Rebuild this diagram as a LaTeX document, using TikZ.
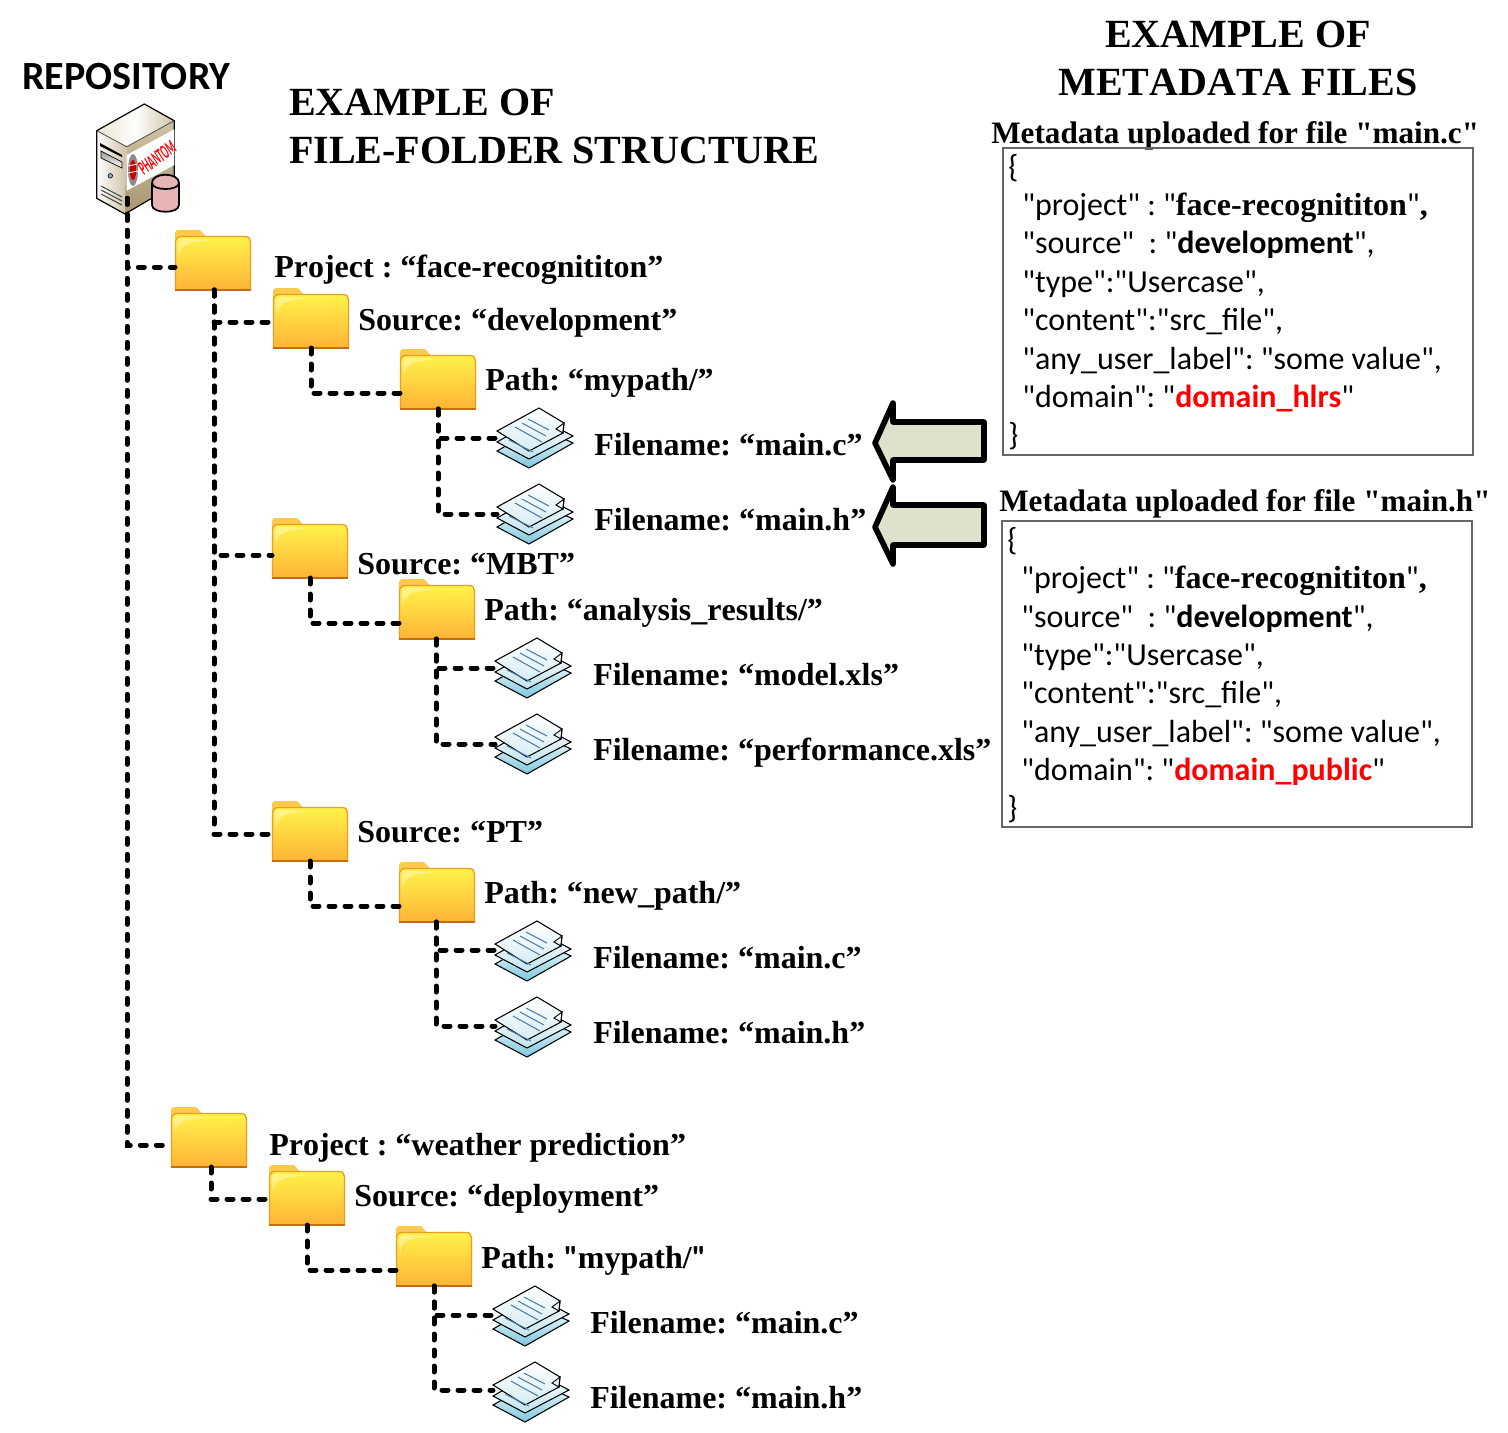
\documentclass[tikz,border=0pt]{standalone}
\usepackage{fontspec}
\setmainfont{Liberation Serif}
\newfontfamily\tms[Kerning=Off]{Liberation Serif}
\newfontfamily\carl{Carlito}
\usetikzlibrary{calc,shadings}
\frenchspacing
\definecolor{fedge}{HTML}{E8A024}
\definecolor{fbot}{HTML}{C46E12}
\definecolor{ftop}{HTML}{FFF24A}
\definecolor{flow}{HTML}{FFB336}
\definecolor{ftab}{HTML}{FFC94D}
\definecolor{dline}{HTML}{4F7FA8}
\definecolor{arrowfill}{HTML}{DDE2CC}
\definecolor{jred}{HTML}{FF0000}
\definecolor{dbot}{HTML}{7CC8DE}
\definecolor{dmid}{HTML}{BFE3EE}
\definecolor{dtop}{HTML}{D5EDF4}
\definecolor{srvtop}{HTML}{E9E3D3}
\definecolor{srvtan}{HTML}{CFC3A6}
\definecolor{srvdark}{HTML}{A8966F}
\definecolor{cylfill}{HTML}{E8B4B4}
\tikzset{
  conn/.style={line width=3.75pt,line cap=round,dash pattern=on 4.5pt off 7.5pt,black},
  lab/.style={anchor=base west,inner sep=0pt,xshift=-0.75pt,font=\fontsize{24}{24}\selectfont\tms\bfseries},
  head/.style={anchor=base west,inner sep=0pt,font=\fontsize{30}{30}\selectfont\tms\bfseries},
  headc/.style={anchor=base,inner sep=0pt,font=\fontsize{30}{30}\selectfont\tms\bfseries},
  meta/.style={anchor=base west,inner sep=0pt,font=\fontsize{23.4}{24}\selectfont\tms\bfseries},
  js/.style={anchor=base west,inner sep=0pt,xshift=-0.75pt,yshift=-0.75pt,font=\fontsize{24}{24}\selectfont\carl},
  jbox/.style={draw=black!60,line width=0.9pt},
  bigarrow/.style={draw=black,fill=arrowfill,line width=4.2pt,line join=round},
  anchorbox/.style={inner sep=0pt,outer sep=0pt,minimum width=57pt,minimum height=45pt}
}
\newcommand{\folderat}[3]{%
  \begin{scope}[shift={(#2,#3)}]
    \fill[ftab] (0,60) -- (0,5) .. controls (0,1) and (1,0) .. (5,0) -- (25,0) -- (31,6.5) -- (70,6.5) .. controls (74,6.5) and (76,9) .. (76,12) -- (76,60) -- cycle;
    \shade[top color=ftop,bottom color=flow,draw=fedge,line width=1pt] (0.5,60) -- (0.5,13) .. controls (0.5,9) and (2,6.5) .. (6,6.5) -- (70,6.5) .. controls (74,6.5) and (75.5,9) .. (75.5,12) -- (75.5,60) -- cycle;
    \fill[white,opacity=.35] (4,30) .. controls (5,16) and (8,12) .. (40,10) -- (8,9) .. controls (4,9) and (3,11) .. (3,14) -- cycle;
    \draw[fbot,line width=1.2pt] (0,60) -- (76,60);
    \node[anchorbox] (#1) at (38,30) {};
  \end{scope}}
\newcommand{\docsat}[3]{%
  \begin{scope}[shift={(#2,#3)}]
    \shade[top color=white,bottom color=dbot,draw=black,line width=.8pt] (0,43) -- (42,19) -- (76,35) -- (32,60) -- cycle;
    \shade[top color=white,bottom color=dmid,draw=black,line width=.8pt] (0,34) -- (42,10) -- (76,28) -- (32,51) -- cycle;
    \shade[top color=white,bottom color=dtop,draw=black,line width=.8pt] (0,23) -- (42,0) -- (67,15) -- (66,25) -- (32,43) -- cycle;
    \draw[black,line width=.7pt] (67,15) -- (66,25) -- (59,21) -- cycle;
    \draw[dline,line width=.8pt] (31,11) -- (52,22) (25,15) -- (49,28) (18,19) -- (45,34) (12,32) -- (36,44);
    \node[anchorbox] (#1) at (38,30) {};
  \end{scope}}
\newcommand{\lnk}[4]{\draw[conn] ($(#1.south)+(#3,0)$) |- ($(#2.west)+(0,#4)$);}
\begin{document}
\begin{tikzpicture}[x=0.75pt,y=-0.75pt]
\useasboundingbox (0,0) rectangle (1508,1432);
% server
\node[inner sep=0pt,outer sep=0pt,minimum width=58pt,minimum height=83pt] (repo) at (135.5,159) {};
\shade[left color=srvtop,right color=srvtan,middle color=white] (96.7,130.7) -- (144.3,104) -- (174.3,120.7) -- (126.7,146.7) -- cycle;
\shade[left color=white,right color=srvtan] (96.7,130.7) -- (126.7,146.7) -- (125,214) -- (96.7,198.3) -- cycle;
\shade[top color=srvtan,bottom color=srvdark] (126.7,146.7) -- (174.3,120.7) -- (174.3,185) -- (125,214) -- cycle;
\draw[black,line width=.9pt,line join=round] (96.7,130.7) -- (144.3,104) -- (174.3,120.7) -- (174.3,185) -- (125,214) -- (96.7,198.3) -- cycle;
\fill[white] (126.7,155) -- (174.3,129.3) -- (174.3,165) -- (126.7,190.7) -- cycle;
\draw[black!70,line width=.6pt] (96.7,130.7) -- (126.7,146.7) -- (174.3,120.7);
\fill[black] (100,143) -- (122,155) -- (122,157) -- (100,146) -- cycle;
\shade[top color=black!40,bottom color=white,draw=black,line width=.5pt] (101,151) -- (122,162) -- (122,168) -- (101,158) -- cycle;
\fill[black!50!cyan!60!white,draw=black,line width=.4pt] (110.3,175.8) circle (2.3);
\draw[black!70,line width=.8pt] (101,186) -- (122,197) (101,190) -- (122,201) (101,194) -- (122,205);
\fill[black!45] (133,170) ellipse (5 and 16);
\fill[red!80!black] (133,170) ellipse (3.2 and 10);
\draw[white,line width=.6pt] (128,166) -- (138,164) (128,173) -- (138,171);
\node[inner sep=0pt,text=red,rotate=36] (phlabel) at (157,158) {\resizebox{31pt}{10pt}{\carl\bfseries\itshape PHANTOM}};
\draw[black,fill=cylfill,line width=1.3pt] (152,183) -- (152,205) .. controls (152,214) and (179,214) .. (179,205) -- (179,183) .. controls (179,172) and (152,172) .. (152,183) .. controls (152,191) and (179,191) .. (179,183);
% folders
\folderat{pa}{175}{230}
\folderat{sa}{273}{288}
\folderat{ta}{400}{349}
\folderat{sb}{272}{518}
\folderat{tb}{399}{579}
\folderat{sc}{272}{801}
\folderat{tc}{399}{862}
\folderat{pb}{171}{1107}
\folderat{sd}{269}{1165}
\folderat{td}{396}{1226}
% documents
\docsat{da}{497}{408}
\docsat{db}{497}{484}
\docsat{dc}{495}{638}
\docsat{dd}{495}{714}
\docsat{de}{495}{921}
\docsat{df}{495}{997}
\docsat{dg}{493}{1286}
\docsat{dh}{493}{1362}
% connectors
\draw[conn] ($(repo.south)+(-8.5,-16)$) |- ($(pa.west)+(0,7)$);
\draw[conn] ($(repo.south)+(-8.5,-16)$) |- ($(pb.west)+(0,8)$);
\lnk{pa}{sa}{1}{4}
\lnk{pa}{sb}{1}{7}
\lnk{pa}{sc}{1}{3}
\lnk{sa}{ta}{0}{14}
\lnk{ta}{da}{0}{0}
\lnk{ta}{db}{0}{0}
\lnk{sb}{tb}{0}{14}
\lnk{tb}{dc}{-1}{0}
\lnk{tb}{dd}{-1}{0}
\lnk{sc}{tc}{0}{14}
\lnk{tc}{de}{-1}{-1}
\lnk{tc}{df}{-1}{-1}
\lnk{pb}{sd}{2}{4}
\lnk{sd}{td}{0}{14}
\lnk{td}{dg}{0}{-1}
\lnk{td}{dh}{0}{-2}
% headings
\node[inner sep=0pt,anchor=base west,font=\fontsize{30}{30}\selectfont\carl\bfseries] (trepo) at (22,89) {REPOSITORY};
\node[head] (h1) at (289,115) {EXAMPLE OF};
\node[head] (h2) at (289,163) {FILE-FOLDER STRUCTURE};
\node[headc] (h3) at (1238,47) {EXAMPLE OF};
\node[headc] (h4) at (1238,95) {METADATA FILES};
% labels
\node[lab] (l1) at (275,277) {Project : “face-recognititon”};
\node[lab] (l2) at (359,330) {Source: “development”};
\node[lab] (l3) at (486,390) {Path: “mypath/”};
\node[lab] (l4) at (595,455) {Filename: “main.c”};
\node[lab] (l5) at (595,530) {Filename: “main.h”};
\node[lab] (l6) at (358,574) {Source: “MBT”};
\node[lab] (l7) at (485,620) {Path: “analysis\_results/”};
\node[lab] (l8) at (594,685) {Filename: “model.xls”};
\node[lab] (l9) at (594,760) {Filename: “performance.xls”};
\node[lab] (l10) at (358,842) {Source: “PT”};
\node[lab] (l11) at (485,903) {Path: “new\_path/”};
\node[lab] (l12) at (594,968) {Filename: “main.c”};
\node[lab] (l13) at (594,1043) {Filename: “main.h”};
\node[lab] (l14) at (270,1155) {Project : “weather prediction”};
\node[lab] (l15) at (355,1206) {Source: “deployment”};
\node[lab] (l16) at (482,1268) {Path: {\carl"}mypath/{\carl"}};
\node[lab] (l17) at (591,1333) {Filename: “main.c”};
\node[lab] (l18) at (591,1408) {Filename: “main.h”};
% arrows
\draw[bigarrow] (984,422) -- (893,422) -- (893,403) -- (875,443) -- (893,480) -- (893,460) -- (984,460) -- cycle;
\draw[bigarrow] (984,505) -- (893,505) -- (893,487) -- (875,527) -- (893,564) -- (893,545) -- (984,545) -- cycle;
% metadata
\node[meta] (m1) at (991,143) {Metadata uploaded for file "main.c"};
\node[meta] (m2) at (999,511) {Metadata uploaded for file "main.h"};
\draw[jbox] (1003,148) rectangle (1473,455);
\draw[jbox] (1002,521) rectangle (1472,827);
\node[js] (a0) at (1009,176) {\{};
\node[js] (a1) at (1023,214) {"project" : "{\tms\bfseries face-recognititon}"{\tms\bfseries ,}};
\node[js] (a2) at (1023,252) {"source"\ \ : "{\bfseries development}",};
\node[js] (a3) at (1023,291) {"type":"Usercase",};
\node[js] (a4) at (1023,329) {"content":"src\_file",};
\node[js] (a5) at (1023,368) {"any\_user\_label": "some value",};
\node[js] (a6) at (1023,406) {"domain": "{\bfseries\color{jred}domain\_hlrs}"};
\node[js] (a7) at (1009,444) {\}};
\node[js] (b0) at (1008,549) {\{};
\node[js] (b1) at (1022,587) {"project" : "{\tms\bfseries face-recognititon}"{\tms\bfseries ,}};
\node[js] (b2) at (1022,626) {"source"\ \ : "{\bfseries development}",};
\node[js] (b3) at (1022,664) {"type":"Usercase",};
\node[js] (b4) at (1022,702) {"content":"src\_file",};
\node[js] (b5) at (1022,741) {"any\_user\_label": "some value",};
\node[js] (b6) at (1022,779) {"domain": "{\bfseries\color{jred}domain\_public}"};
\node[js] (b7) at (1008,817) {\}};
\end{tikzpicture}
\end{document}
